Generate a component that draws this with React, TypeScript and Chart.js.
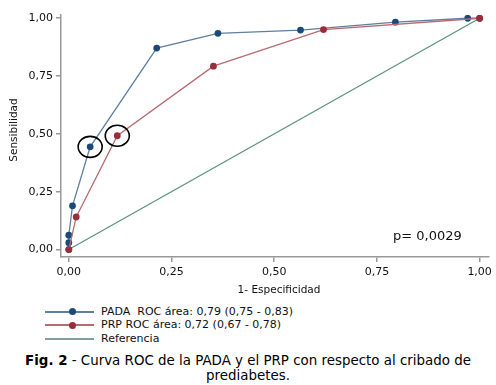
import React, { useEffect, useRef } from "react";
import { Chart, registerables } from "chart.js";
Chart.register(...registerables);

const FONT = "'DejaVu Sans', Verdana, sans-serif";

const tickValues = [0, 0.25, 0.5, 0.75, 1];

const padaX = [0, 0, 0, 0.009, 0.052, 0.214, 0.363, 0.564, 0.795, 0.971, 1];
const padaY = [0, 0.03, 0.062, 0.189, 0.444, 0.871, 0.935, 0.949, 0.983, 1.0, 1];

const prpX = [0, 0.018, 0.118, 0.352, 0.62, 1];
const prpY = [0, 0.141, 0.492, 0.793, 0.951, 1];

const refX = [0, 1];
const refY = [0, 1];

// highlighted points: [dataset index, point index]
const highlights = [
  { dataset: 1, index: 4 },
  { dataset: 0, index: 2 },
];

const legendItems = [
  { label: "PADA  ROC área: 0,79 (0,75 - 0,83)", line: "#5f7fa0", dot: "#1b4a7a" },
  { label: "PRP ROC área: 0,72 (0,67 - 0,78)", line: "#b86a72", dot: "#9b2c3a" },
  { label: "Referencia", line: "#7f9eac", dot: null },
];

const xTitle = "1- Especificidad";
const yTitle = "Sensibilidad";
const pText = "p= 0,0029";

const toPts = (xs: number[], ys: number[]) => xs.map((x, i) => ({ x, y: ys[i] }));
const fmt = (v: number) => v.toFixed(2).replace(".", ",");

export default function App() {
  const canvasRef = useRef<HTMLCanvasElement>(null);

  useEffect(() => {
    if (!canvasRef.current) return;
    const plugin = {
      id: "extras",
      afterDatasetsDraw(chart: any) {
        const ctx = chart.ctx;
        ctx.save();
        ctx.strokeStyle = "#000";
        ctx.lineWidth = 1.6;
        highlights.forEach((h) => {
          const el = chart.getDatasetMeta(h.dataset).data[h.index];
          ctx.beginPath();
          ctx.ellipse(el.x, el.y, 12, 10.5, 0, 0, Math.PI * 2);
          ctx.stroke();
        });
        ctx.fillStyle = "#111";
        ctx.font = `10.5px ${FONT}`;
        ctx.textAlign = "center";
        ctx.textBaseline = "middle";
        ctx.fillText(xTitle, 279, 290);
        ctx.translate(14, 130);
        ctx.rotate(-Math.PI / 2);
        ctx.fillText(yTitle, 0, 0);
        ctx.restore();
      },
    };

    const axisCommon = {
      type: "linear" as const,
      afterBuildTicks: (s: any) => {
        s.ticks = tickValues.map((v) => ({ value: v }));
      },
      grid: {
        drawOnChartArea: false,
        drawTicks: true,
        tickLength: 5,
        color: "#999",
        lineWidth: 1.5,
      },
      border: { display: true, color: "#999", width: 1.5 },
    };

    const chart = new Chart(canvasRef.current, {
      type: "scatter",
      data: {
        datasets: [
          {
            label: "PRP",
            data: toPts(prpX, prpY),
            showLine: true,
            borderColor: "#b86a72",
            borderWidth: 1.3,
            pointBackgroundColor: "#9b2c3a",
            pointBorderWidth: 0,
            pointRadius: 3.4,
          },
          {
            label: "PADA",
            data: toPts(padaX, padaY),
            showLine: true,
            borderColor: "#5f7fa0",
            borderWidth: 1.3,
            pointBackgroundColor: "#1b4a7a",
            pointBorderWidth: 0,
            pointRadius: 3.4,
          },
          {
            label: "Referencia",
            data: toPts(refX, refY),
            showLine: true,
            borderColor: "#5a9279",
            borderWidth: 1.2,
            pointRadius: 0,
          },
        ],
      },
      options: {
        animation: false,
        responsive: false,
        devicePixelRatio: 1,
        layout: { padding: { top: 15, right: 6, left: 0, bottom: 0 } },
        plugins: { legend: { display: false }, tooltip: { enabled: false } },
        scales: {
          x: {
            ...axisCommon,
            min: -0.019,
            max: 1.023,
            afterFit: (s: any) => {
              s.height = 43;
            },
            ticks: {
              callback: (v: any) => fmt(Number(v)),
              font: { family: FONT, size: 11 },
              color: "#111",
              padding: 4,
              maxRotation: 0,
              autoSkip: false,
            },
          },
          y: {
            ...axisCommon,
            min: -0.032,
            max: 1.014,
            afterFit: (s: any) => {
              s.width = 61;
            },
            ticks: {
              callback: (v: any) => fmt(Number(v)),
              font: { family: FONT, size: 11 },
              color: "#111",
              padding: 3,
              autoSkip: false,
            },
          },
        },
      },
      plugins: [plugin],
    });
    return () => chart.destroy();
  }, []);

  return (
    <div
      style={{
        position: "absolute",
        left: 0,
        top: 0,
        width: 496,
        height: 385,
        background: "#fff",
        fontFamily: FONT,
        color: "#111",
      }}
    >
      <canvas ref={canvasRef} width={496} height={300} style={{ display: "block" }} />
      <div
        style={{
          position: "absolute",
          left: 393,
          top: 228,
          fontSize: 13,
          lineHeight: "15px",
          whiteSpace: "nowrap",
        }}
      >
        {pText}
      </div>
      {legendItems.map((it, i) => (
        <div
          key={it.label}
          style={{
            position: "absolute",
            left: 0,
            top: 304.7 + i * 13.5,
            height: 14,
            width: 496,
          }}
        >
          <div
            style={{
              position: "absolute",
              left: 45,
              top: 6,
              width: 49,
              height: 2,
              background: it.line,
            }}
          />
          {it.dot && (
            <div
              style={{
                position: "absolute",
                left: 68.5,
                top: 3.5,
                width: 7,
                height: 7,
                borderRadius: "50%",
                background: it.dot,
              }}
            />
          )}
          <div
            style={{
              position: "absolute",
              left: 101,
              top: 0,
              fontSize: 11,
              lineHeight: "14px",
              whiteSpace: "pre",
            }}
          >
            {it.label}
          </div>
        </div>
      ))}
      <div
        style={{
          position: "absolute",
          left: 0,
          top: 353,
          width: 496,
          textAlign: "center",
          fontSize: 13.4,
          lineHeight: "15.3px",
          color: "#000",
          whiteSpace: "nowrap",
        }}
      >
        <b>Fig. 2</b> - Curva ROC de la PADA y el PRP con respecto al cribado de
        <br />
        prediabetes.
      </div>
    </div>
  );
}
